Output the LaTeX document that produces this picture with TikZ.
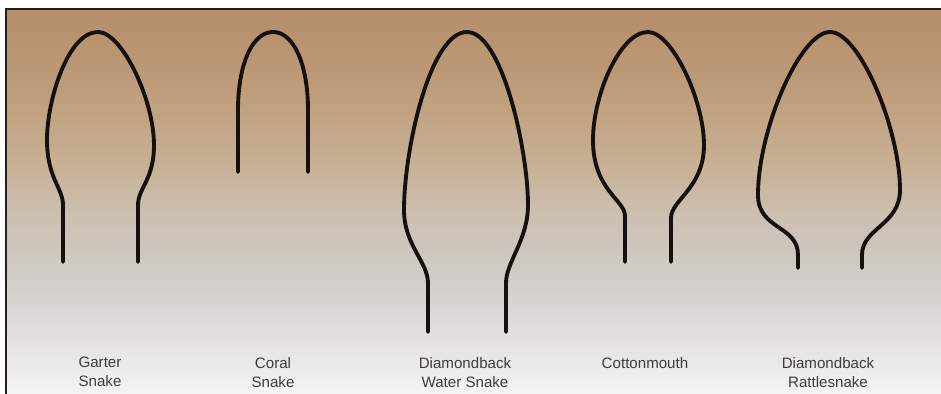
\documentclass[tikz,border=0pt]{standalone}
\usepackage{fontspec}
\setmainfont{Liberation Sans}
\usepackage{xcolor}
\usepackage{tikz}

\definecolor{headline}{RGB}{22,17,14}
\definecolor{labeltext}{RGB}{62,60,58}
\definecolor{framecol}{RGB}{40,30,24}
\definecolor{plate0}{RGB}{244,244,243}
\definecolor{plate1}{RGB}{224,223,221}
\definecolor{plate2}{RGB}{207,203,197}
\definecolor{plate3}{RGB}{204,192,178}
\definecolor{plate4}{RGB}{198,174,145}
\definecolor{plate5}{RGB}{190,156,121}
\definecolor{plate6}{RGB}{181,143,107}
\pgfdeclareverticalshading{plateshade}{100bp}{color(0bp)=(plate0); color(25bp)=(plate0); color(33bp)=(plate1); color(41bp)=(plate2); color(48bp)=(plate3); color(56bp)=(plate4); color(65bp)=(plate5); color(74bp)=(plate6); color(100bp)=(plate6)}

\tikzset{
    headoutline/.style={draw=headline, line width=2.2pt, line cap=round, line join=round},
    plateframe/.style={draw=framecol, line width=1.1pt},
    snakelabel/.style={anchor=north, align=center, text=labeltext, inner sep=0pt, font=\fontsize{8.6}{10.8}\selectfont}
}

\begin{document}
\begin{tikzpicture}[x=0.02cm, y=-0.02cm]
    \useasboundingbox (0,0) rectangle (941,394);
    \shade[shading=plateshade] (6,9) rectangle (941,394);
    \draw[plateframe] (6,394) -- (6,9) -- (941,9);

    % head outlines
    \draw[headoutline] (63,262) -- (63,205) .. controls (63,188) and (47,178) .. (47,140)
        .. controls (47,100) and (68,32) .. (98,32) .. controls (122,32) and (154,100) .. (154,145)
        .. controls (154,180) and (138,188) .. (138,205) -- (138,262);
    \draw[headoutline] (238,172) -- (238,110) .. controls (238,65) and (252,32) .. (273,32)
        .. controls (294,32) and (308,65) .. (308,110) -- (308,172);
    \draw[headoutline] (428,332) -- (428,283) .. controls (428,262) and (404,245) .. (404,210)
        .. controls (404,150) and (430,32) .. (467,32) .. controls (502,32) and (528,150) .. (528,205)
        .. controls (528,240) and (506,262) .. (506,283) -- (506,332);
    \draw[headoutline] (625,262) -- (625,216) .. controls (625,200) and (593,190) .. (593,140)
        .. controls (593,95) and (620,32) .. (648,32) .. controls (672,32) and (704,100) .. (704,145)
        .. controls (704,188) and (671,200) .. (671,218) -- (671,262);
    \draw[headoutline] (798,268) -- (798,255) .. controls (798,225) and (758,230) .. (758,195)
        .. controls (758,130) and (800,32) .. (830,32) .. controls (860,32) and (900,130) .. (900,190)
        .. controls (900,225) and (862,228) .. (862,255) -- (862,268);

    % names
    \node[snakelabel] (garter) at (100,357) {Garter\\Snake};
    \node[snakelabel] (coral) at (273,357) {Coral\\Snake};
    \node[snakelabel] (watersnake) at (465,357) {Diamondback\\Water Snake};
    \node[snakelabel] (cottonmouth) at (645,357) {Cottonmouth};
    \node[snakelabel] (rattlesnake) at (828,357) {Diamondback\\Rattlesnake};
\end{tikzpicture}
\end{document}
